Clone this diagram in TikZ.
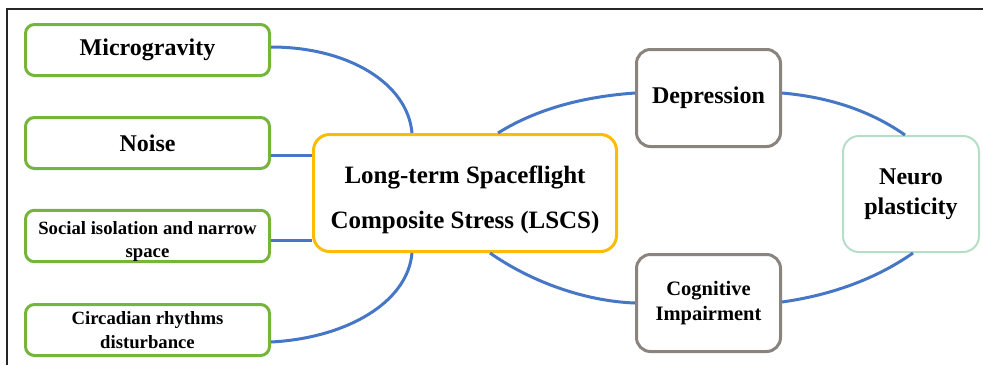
\documentclass[tikz,border=0pt]{standalone}
\usepackage{fontspec}
\setmainfont{Liberation Serif}
\usepackage{tikz}
\usetikzlibrary{calc}
\usetikzlibrary{arrows.meta}
\usetikzlibrary{shapes}
\tikzset{>=latex}
\definecolor{leafgreen}{RGB}{118,180,60}
\definecolor{amber}{RGB}{250,188,5}
\definecolor{stone}{RGB}{138,131,126}
\definecolor{mint}{RGB}{182,222,198}
\definecolor{linkblue}{RGB}{70,118,198}
\tikzstyle{cause} = [rectangle, rounded corners=9pt, draw=leafgreen, line width=3pt, minimum width=244pt, minimum height=51pt, inner sep=0pt, align=center]
\tikzstyle{effect} = [rectangle, rounded corners=14pt, draw=stone, line width=3pt, minimum width=144pt, minimum height=97pt, inner sep=0pt, align=center]
\tikzstyle{link} = [-, draw=linkblue, line width=3pt]

\begin{document}
\begin{tikzpicture}[x=1pt, y=1pt, font=\bfseries]
\useasboundingbox (0,0) rectangle (983,-365);
\draw [line width=1.2pt, draw=black!85] (7,-365) -- (7,-9) -- (983,-9);
\node [cause, font=\bfseries\fontsize{24}{28}\selectfont] (MG) at (147.5,-50) {Microgravity};
\node [cause, font=\bfseries\fontsize{24}{28}\selectfont] (NO) at (147.5,-143) {Noise};
\node [cause, font=\bfseries\fontsize{18.7}{23.5}\selectfont] (SI) at (147.5,-236) {\rule{0pt}{24pt}Social isolation and narrow\\space};
\node [cause, font=\bfseries\fontsize{18.7}{24}\selectfont] (CR) at (147.5,-330) {Circadian rhythms\\disturbance};
\node [rectangle, rounded corners=16pt, draw=amber, line width=3pt, minimum width=303pt, minimum height=117pt, inner sep=0pt, align=center, font=\bfseries\fontsize{25}{45}\selectfont] (LSCS) at (465,-193) {\rule{0pt}{31pt}Long-term Spaceflight\\Composite Stress (LSCS)};
\node [effect, font=\bfseries\fontsize{24}{28}\selectfont] (DE) at (708.5,-98) {Depression};
\node [effect, font=\bfseries\fontsize{20.5}{25}\selectfont] (CI) at (708.5,-303) {Cognitive\\Impairment};
\node [rectangle, rounded corners=16pt, draw=mint, line width=2pt, minimum width=136pt, minimum height=116pt, inner sep=0pt, align=center, font=\bfseries\fontsize{24}{30}\selectfont] (NP) at (911,-194) {Neuro\\plasticity};
\draw [link] ([yshift=3pt]MG.east) to [out=0, in=95, out distance=77pt, in distance=50pt] ([xshift=-53pt]LSCS.north);
\draw [link] ([yshift=-12pt]NO.east) -- ([yshift=-12pt]NO.east -| LSCS.west);
\draw [link] ([yshift=-4pt]SI.east) -- ([yshift=-4pt]SI.east -| LSCS.west);
\draw [link] ([yshift=-12pt]CR.east) to [out=3, in=-95, out distance=75pt, in distance=50pt] ([xshift=-53pt]LSCS.south);
\draw [link] ([xshift=33pt]LSCS.north) to [out=32, in=184, out distance=50pt, in distance=45pt] ([yshift=5pt]DE.west);
\draw [link] ([yshift=5pt]DE.east) to [out=-5, in=145, out distance=50pt, in distance=40pt] ([xshift=-6pt]NP.north);
\draw [link] ([xshift=25pt]LSCS.south) to [out=-35, in=178, out distance=50pt, in distance=50pt] (CI.west);
\draw [link] ([yshift=1pt]CI.east) to [out=8, in=-145, out distance=50pt, in distance=45pt] ([xshift=2pt]NP.south);
\end{tikzpicture}
\end{document}
